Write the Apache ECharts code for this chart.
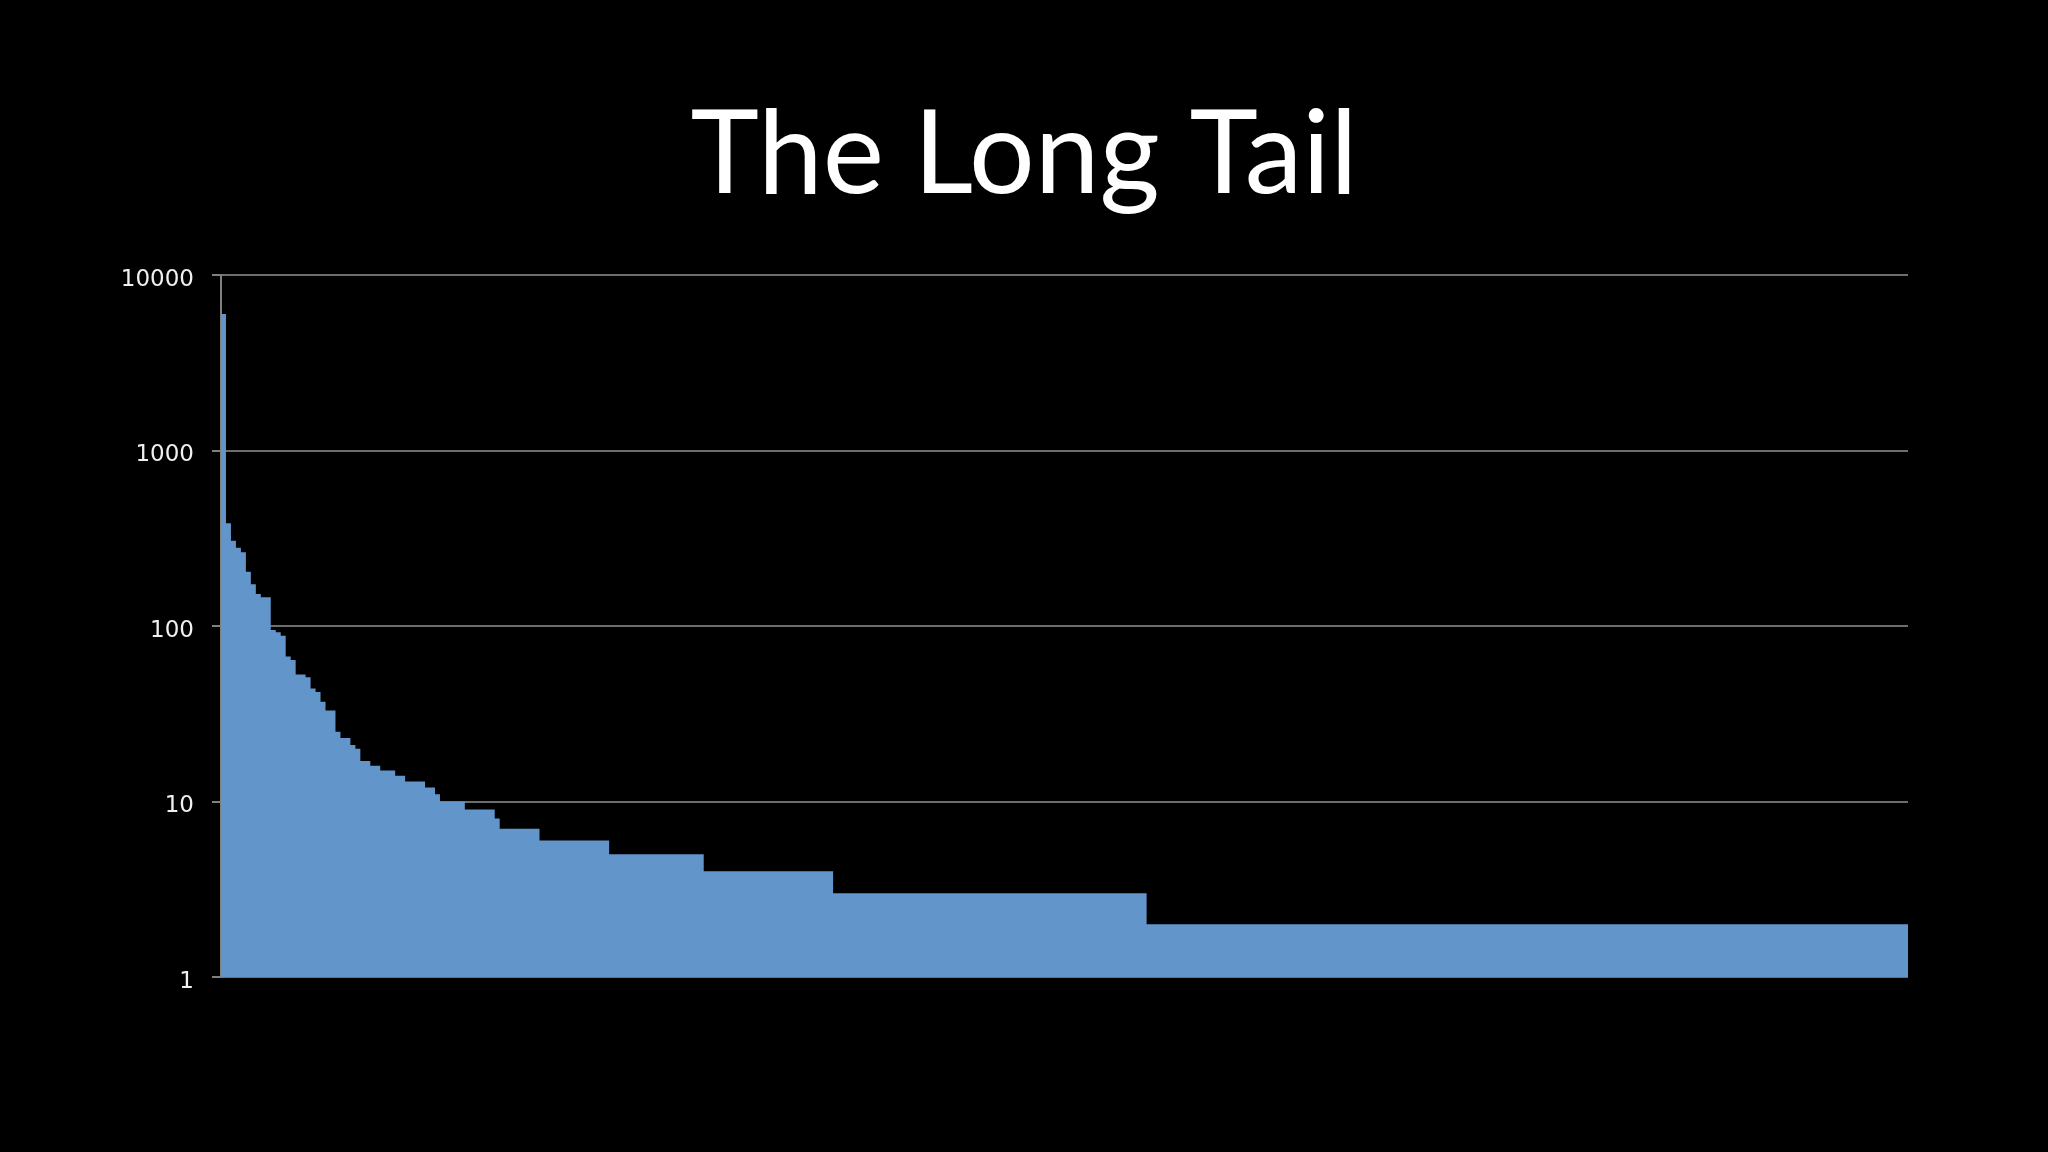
<!DOCTYPE html>
<html>
<head>
<meta charset="utf-8">
<title>The Long Tail</title>
<script src="https://cdn.jsdelivr.net/npm/echarts@6/dist/echarts.min.js"></script>
<style>
  html, body { margin: 0; padding: 0; background: #000; }
  #main { width: 2048px; height: 1152px; }
</style>
</head>
<body>
<div id="main"></div>
<script>
// Each run: a height and how many items (equal-width columns) share it.
var runValues  = [6000, 385, 306, 279, 263, 204, 173, 152, 146, 95, 92, 88, 67, 64, 53, 51, 44, 42, 37, 33,
                  25, 23, 21, 20, 17, 16, 15, 14, 13, 12, 11, 10, 9, 8, 7, 6, 5, 4, 3, 2];
var runLengths = [1, 1, 1, 1, 1, 1, 1, 1, 2, 1, 1, 1, 1, 1, 2, 1, 1, 1, 1, 2,
                  1, 2, 1, 1, 2, 2, 3, 2, 4, 2, 1, 5, 6, 1, 8, 14, 19, 26, 63, 153];
var yTicks = [1, 10, 100, 1000, 10000];

// build step points: [start of run, value], plus closing point at the end
var points = [];
var pos = 0;
for (var i = 0; i < runValues.length; i++) {
  points.push([pos, runValues[i]]);
  pos += runLengths[i];
}
points.push([pos, runValues[runValues.length - 1]]);
var itemCount = pos;

var Chart = echarts.init(document.getElementById('main'));

var option = {
  backgroundColor: '#000000',
  animation: false,
  title: {
    text: 'The Long Tail',
    left: 'center',
    top: 93,
    textStyle: {
      color: '#ffffff',
      fontFamily: 'Lato',
      fontWeight: 'normal',
      fontSize: 116
    }
  },
  grid: {
    left: 221,
    right: 140,
    top: 275,
    bottom: 175
  },
  xAxis: {
    type: 'value',
    min: 0,
    max: itemCount,
    show: false
  },
  yAxis: {
    type: 'log',
    logBase: 10,
    min: yTicks[0],
    max: yTicks[yTicks.length - 1],
    axisLine: { show: true, lineStyle: { color: '#808080', width: 2 } },
    axisTick: { show: true, inside: false, length: 9, lineStyle: { color: '#808080', width: 2 } },
    axisLabel: {
      color: '#f0f0f0',
      fontFamily: 'DejaVu Sans',
      fontSize: 23,
      margin: 27,
      verticalAlign: 'top',
      lineHeight: 10,
      formatter: function (v) { return String(Math.round(v)); }
    },
    splitLine: { show: true, lineStyle: { color: '#6e6e6e', width: 2 } }
  },
  series: [
    {
      type: 'line',
      step: 'end',
      data: points,
      symbol: 'none',
      lineStyle: { width: 0, color: '#6295ca' },
      areaStyle: { color: '#6295ca', opacity: 1, origin: 'start' },
      z: 3
    }
  ]
};

Chart.setOption(option);
</script>
</body>
</html>
